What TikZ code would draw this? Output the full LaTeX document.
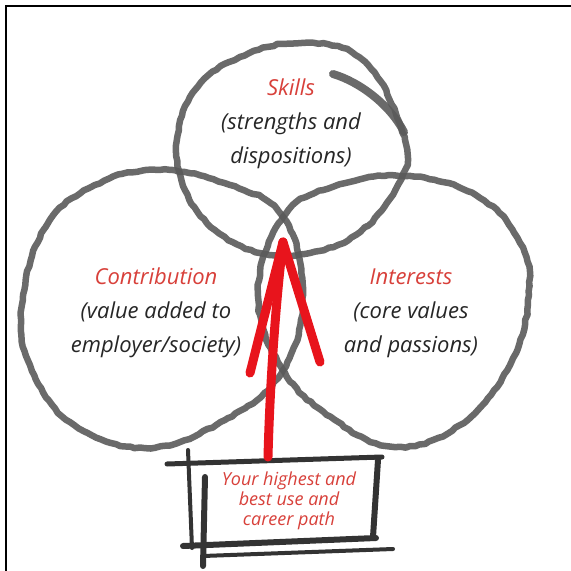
\documentclass[tikz,border=0pt]{standalone}
\usepackage{fontspec}
\setmainfont{Open Sans}
\usetikzlibrary{decorations.pathmorphing}
\definecolor{redtxt}{HTML}{D8403A}
\definecolor{arrowred}{HTML}{E8141C}
\definecolor{pencilgray}{HTML}{5A5A5A}
\begin{document}
\begin{tikzpicture}[x=1pt,y=-1pt,
  pencilplain/.style={draw=pencilgray, line width=6.5pt, line cap=round, line join=round, opacity=0.9},
  pencil/.style={pencilplain, decorate, decoration={random steps, segment length=5pt, amplitude=0.8pt}},
  boxline/.style={draw=black!80, line width=5pt, line cap=round},
  redarrow/.style={draw=arrowred, line width=9pt, line cap=round},
  lbl/.style={font=\fontsize{22}{34}\selectfont\itshape, align=center, text=black!85},
  boxlbl/.style={font=\fontsize{18}{20}\selectfont\itshape, align=center, text=redtxt},
  frame/.style={draw=black, line width=2.2pt}]
\useasboundingbox (0,0) rectangle (571,571);
\fill[white] (0,0) rectangle (571,571);
% frame
\coordinate (f1) at (6,571);
\coordinate (f2) at (6,6);
\coordinate (f3) at (571,6);
\draw[frame] (f1) -- (f2) -- (f3);
% circles
\draw[pencil] plot[smooth cycle, tension=0.7] coordinates {(22,305) (45,228) (95,185) (160,170) (230,185) (283,217) (303,295) (283,370) (225,420) (145,448) (70,422) (30,365)};
\draw[pencil] plot[smooth cycle, tension=0.7] coordinates {(258,295) (283,217) (335,186) (410,176) (480,198) (520,243) (529,295) (510,365) (460,425) (395,447) (335,420) (283,370)};
\draw[pencil] plot[smooth cycle, tension=0.7] coordinates {(405,140) (398,185) (360,232) (310,253) (260,253) (215,230) (185,190) (177,140) (195,90) (240,57) (303,43) (365,62)};
\coordinate (o1) at (333,74);
\coordinate (o2) at (404,132);
\draw[pencilplain, line width=8pt] (o1) .. controls (360,82) and (390,105) .. (o2);
% texts
\node[lbl] (skills) at (291,124) {{\color{redtxt}Skills}\\(strengths and\\dispositions)};
\node[lbl] (contrib) at (156,313) {{\color{redtxt}Contribution}\\(value added to\\employer/society)};
\node[lbl] (interests) at (411,313) {{\color{redtxt}Interests}\\(core values\\and passions)};
% box
\node[boxlbl] (goal) at (289,501) {Your highest and\\best use and\\career path};
\coordinate (b1) at (167,464);
\coordinate (b2) at (382,457);
\coordinate (b3) at (378,460);
\coordinate (b4) at (373,537);
\coordinate (b5) at (183,546);
\coordinate (b6) at (376,538);
\coordinate (b7) at (203,556);
\coordinate (b8) at (393,549);
\coordinate (b9) at (188,450);
\coordinate (b10) at (192,548);
\coordinate (b11) at (205,477);
\coordinate (b12) at (203,566);
\draw[boxline] (b1) -- (b2);
\draw[boxline, line width=6pt] (b3) -- (b4);
\draw[boxline, line width=6pt] (b5) -- (b6);
\draw[boxline, line width=4pt] (b7) -- (b8);
\draw[boxline, line width=4pt] (b9) -- (b10);
\draw[boxline, line width=6pt] (b11) -- (b12);
% arrow
\coordinate (tip) at (283,242);
\coordinate (shaftend) at (268,457);
\coordinate (legl) at (250,373);
\coordinate (legr) at (320,362);
\draw[redarrow] (shaftend) .. controls (270,380) and (276,300) .. (tip);
\draw[redarrow] (tip) -- (legl);
\draw[redarrow] (tip) -- (legr);
\end{tikzpicture}
\end{document}
